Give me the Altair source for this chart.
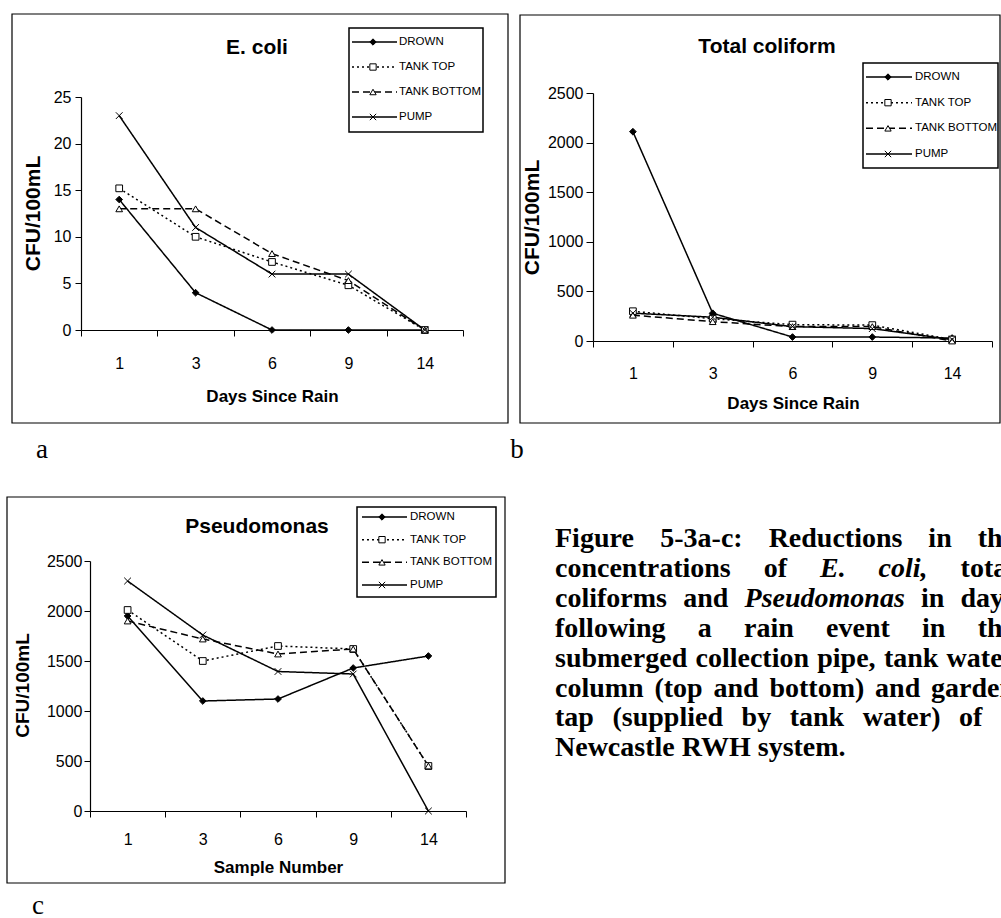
import altair as alt
import pandas as pd

# ---------------- data ----------------
days = ["1", "3", "6", "9", "14"]
series = ["DROWN", "TANK TOP", "TANK BOTTOM", "PUMP"]

ecoli_drown = [14, 4, 0, 0, 0]
ecoli_tank_top = [15.2, 10, 7.3, 4.8, 0]
ecoli_tank_bottom = [13, 13, 8.2, 5.3, 0]
ecoli_pump = [23, 11, 6, 6, 0]

coliform_drown = [2110, 280, 40, 40, 30]
coliform_tank_top = [300, 225, 165, 160, 15]
coliform_tank_bottom = [260, 195, 145, 145, 0]
coliform_pump = [280, 240, 145, 125, 15]

pseudo_drown = [1950, 1100, 1120, 1430, 1550]
pseudo_tank_top = [2010, 1500, 1650, 1620, 450]
pseudo_tank_bottom = [1900, 1720, 1570, 1620, 450]
pseudo_pump = [2300, 1760, 1395, 1370, 0]

ecoli_ticks = [0, 5, 10, 15, 20, 25]
count_ticks = [0, 500, 1000, 1500, 2000, 2500]

caption_lines = [
    [("Figure", 0), ("5-3a-c:", 0), ("Reductions", 0), ("in", 0), ("the", 0)],
    [("concentrations", 0), ("of", 0), ("E.", 1), ("coli,", 1), ("total", 0)],
    [("coliforms", 0), ("and", 0), ("Pseudomonas", 1), ("in", 0), ("days", 0)],
    [("following", 0), ("a", 0), ("rain", 0), ("event", 0), ("in", 0), ("the", 0)],
    [("submerged", 0), ("collection", 0), ("pipe,", 0), ("tank", 0), ("water", 0)],
    [("column", 0), ("(top", 0), ("and", 0), ("bottom)", 0), ("and", 0), ("garden", 0)],
    [("tap", 0), ("(supplied", 0), ("by", 0), ("tank", 0), ("water)", 0), ("of", 0), ("a", 0)],
    [("Newcastle RWH system.", 0)],
]

# ---------------- styles ----------------
SANS = "Liberation Sans, Arial, sans-serif"
NARROW = "Liberation Sans Narrow, Arial Narrow, Liberation Sans, sans-serif"
SERIF = "Liberation Serif, Times New Roman, serif"

dash_range = [[1, 0], [2, 3], [7, 4], [1, 0]]
shape_range = ["diamond", "square", "triangle-up", "M-1,-1L1,1M-1,1L1,-1"]
fill_range = ["black", "white", "white", "white"]


def long_df(cols):
    rows = []
    for s, vals in zip(series, cols):
        for i, (d, v) in enumerate(zip(days, vals)):
            rows.append({"series": s, "day": d, "idx": i, "value": v})
    return pd.DataFrame(rows)


def dash_enc():
    return alt.StrokeDash("series:N", scale=alt.Scale(domain=series, range=dash_range), legend=None)


def shape_enc():
    return alt.Shape("series:N", scale=alt.Scale(domain=series, range=shape_range), legend=None)


def fill_enc():
    return alt.Fill("series:N", scale=alt.Scale(domain=series, range=fill_range), legend=None)


def panel(df, xrange, yrange, ydomain, yvals, xoff, yoff, xtitle, xt_pos, ytitle_pos,
          ytitle_size, xlabel_pad, ytick, ylabel_pad):
    x = alt.X("day:O", sort=days,
              scale=alt.Scale(type="band", domain=days, range=xrange, paddingInner=0, paddingOuter=0),
              axis=alt.Axis(orient="bottom", offset=xoff, tickBand="extent", labelAngle=0,
                            labelFont=SANS, labelFontSize=16, labelColor="black",
                            labelPadding=xlabel_pad, tickSize=6, tickColor="black",
                            domainColor="black", domainWidth=1.2, grid=False,
                            title=xtitle, titleFont=SANS, titleFontSize=17,
                            titleFontWeight="bold", titleColor="black",
                            titleX=xt_pos[0], titleY=xt_pos[1], titleAlign="center",
                            titleBaseline="middle"))
    y = alt.Y("value:Q",
              scale=alt.Scale(domain=ydomain, range=yrange, nice=False, zero=True),
              axis=alt.Axis(orient="left", offset=yoff, values=yvals, format="d", labelFont=SANS,
                            labelFontSize=16, labelColor="black", labelPadding=ylabel_pad,
                            tickSize=ytick, tickColor="black", domainColor="black",
                            domainWidth=1.2, grid=False, title="CFU/100mL", titleFont=SANS,
                            titleFontSize=ytitle_size, titleFontWeight="bold",
                            titleColor="black", titleX=ytitle_pos[0], titleY=ytitle_pos[1],
                            titleAlign="center", titleBaseline="middle", titleAngle=270))
    base = alt.Chart(df)
    lines = base.mark_line(color="black", strokeWidth=1.5).encode(
        x=x, y=y, strokeDash=dash_enc(), order=alt.Order("idx:Q"))
    pts = base.mark_point(filled=True, stroke="black", strokeWidth=1, size=45, opacity=1).encode(
        x=x, y=y, shape=shape_enc(), fill=fill_enc())
    return alt.layer(lines, pts)


def legend(rows, line_x, marker_x, text_x):
    ldf = pd.DataFrame({"series": series})
    yenc = alt.Y("series:N", sort=series,
                 scale=alt.Scale(type="point", domain=series, range=rows, padding=0), axis=None)
    rule = alt.Chart(ldf).mark_rule(color="black", strokeWidth=1.5).encode(
        x=alt.value(line_x[0]), x2=alt.value(line_x[1]), y=yenc, strokeDash=dash_enc())
    pts = alt.Chart(ldf).mark_point(filled=True, stroke="black", strokeWidth=1, size=40, opacity=1).encode(
        x=alt.value(marker_x), y=yenc, shape=shape_enc(), fill=fill_enc())
    txt = alt.Chart(ldf).mark_text(align="left", baseline="middle", font=NARROW, fontSize=11.5,
                                   color="black").encode(x=alt.value(text_x), y=yenc, text="series:N")
    return alt.layer(rule, pts, txt)


one = pd.DataFrame({"k": [0]})


def box(x0, x1, y0, y1, fill="white", fo=0.0, sw=1.2):
    return alt.Chart(one).mark_rect(fill=fill, fillOpacity=fo, stroke="black", strokeWidth=sw).encode(
        x=alt.value(x0), x2=alt.value(x1), y=alt.value(y0), y2=alt.value(y1))


def label(text, x, y, font=SANS, size=21, weight="bold", baseline="middle", align="center"):
    return alt.Chart(one).mark_text(text=text, font=font, fontSize=size, fontWeight=weight,
                                    baseline=baseline, align=align, color="black").encode(
        x=alt.value(x), y=alt.value(y))


df_a = long_df([ecoli_drown, ecoli_tank_top, ecoli_tank_bottom, ecoli_pump])
df_b = long_df([coliform_drown, coliform_tank_top, coliform_tank_bottom, coliform_pump])
df_c = long_df([pseudo_drown, pseudo_tank_top, pseudo_tank_bottom, pseudo_pump])

H = 918

panel_a = panel(df_a, [81, 463], [330, 97], [0, 25], ecoli_ticks, 330 - H, -81,
                "Days Since Rain", (272, 66), (33 - 81, 213), 21, 19, 6, 4)
panel_b = panel(df_b, [593, 992], [341, 93], [0, 2500], count_ticks, 341 - H, -593,
                "Days Since Rain", (793, 62), (532 - 593, 217), 21, 18, 7, 3)
panel_c = panel(df_c, [90, 466], [811, 561], [0, 2500], count_ticks, 811 - H, -90,
                "Sample Number", (278, 56), (22 - 90, 685), 19, 14, 6, 2)

legend_a = legend([42, 117], (352, 397), 373, 399)
legend_b = legend([77, 154], (866, 912), 888, 915)
legend_c = legend([517, 585], (362, 407), 382, 410)

# ---------------- caption layout (justified like the printed page) ----------------
CAP_SIZE = 28
CAP_LEFT, CAP_RIGHT = 555, 1015
CAP_TOP, CAP_LEAD = 547, 29.9
# Times bold / bold-italic advance widths (per 1000 em)
W_B = dict(zip("FRNWHEP53-:(),.abcdefghiklmnoprstuwyv",
               [611, 722, 722, 1000, 778, 667, 611, 500, 500, 333, 333, 333, 333, 250, 250,
                500, 556, 444, 556, 444, 333, 500, 556, 278, 556, 278, 833, 556, 500, 556, 444,
                389, 333, 556, 722, 500, 500]))
W_I = dict(zip("EP.,coliseudmna", [667, 611, 250, 250, 444, 500, 278, 278, 389, 444, 556, 500, 778, 556, 500]))


def word_w(word, it):
    tab = W_I if it else W_B
    return sum(tab.get(ch, 500) for ch in word) * CAP_SIZE / 1000.0


cap_rows = []
for li, words in enumerate(caption_lines):
    yy = CAP_TOP + li * CAP_LEAD
    if len(words) == 1:
        cap_rows.append({"w": words[0][0], "px": CAP_LEFT, "py": yy, "it": words[0][1]})
        continue
    widths = [word_w(w, it) for w, it in words]
    gap = (CAP_RIGHT - CAP_LEFT - sum(widths)) / (len(words) - 1)
    xx = CAP_LEFT
    for (w, it), ww in zip(words, widths):
        cap_rows.append({"w": w, "px": xx, "py": yy, "it": it})
        xx += ww + gap
cap_df = pd.DataFrame(cap_rows)
cap_base = alt.Chart(cap_df).encode(
    x=alt.X("px:Q", scale=None, axis=None), y=alt.Y("py:Q", scale=None, axis=None), text="w:N")
cap_norm = cap_base.transform_filter("datum.it == 0").mark_text(
    align="left", baseline="alphabetic", font=SERIF, fontSize=CAP_SIZE, fontWeight="bold", color="black")
cap_ital = cap_base.transform_filter("datum.it == 1").mark_text(
    align="left", baseline="alphabetic", font=SERIF, fontSize=CAP_SIZE, fontWeight="bold",
    fontStyle="italic", color="black")

layers = [
    box(12, 508, 14, 423), box(520, 1000, 15, 423), box(7, 505, 497, 883),
    panel_a, panel_b, panel_c,
    box(349, 483, 28, 132, fo=1, sw=1.5), box(863, 998, 63, 168, fo=1, sw=1.5), box(357, 496, 507, 597, fo=1, sw=1.5),
    legend_a, legend_b, legend_c,
    label("E. coli", 257, 48), label("Total coliform", 767, 47), label("Pseudomonas", 257, 527),
    label("a", 42, 458, font=SERIF, size=27, weight="normal", baseline="alphabetic"),
    label("b", 517, 458, font=SERIF, size=27, weight="normal", baseline="alphabetic"),
    label("c", 38, 914, font=SERIF, size=27, weight="normal", baseline="alphabetic"),
    cap_norm, cap_ital,
]

chart = alt.layer(*layers).resolve_scale(
    x="independent", y="independent", strokeDash="independent", shape="independent", fill="independent"
).resolve_axis(x="independent", y="independent").properties(
    width=1001, height=918, autosize=alt.AutoSizeParams(type="none"), padding=0,
    background="white"
).configure_view(strokeWidth=0)

chart.save("out.html", embed_options={"renderer": "svg", "actions": False})
